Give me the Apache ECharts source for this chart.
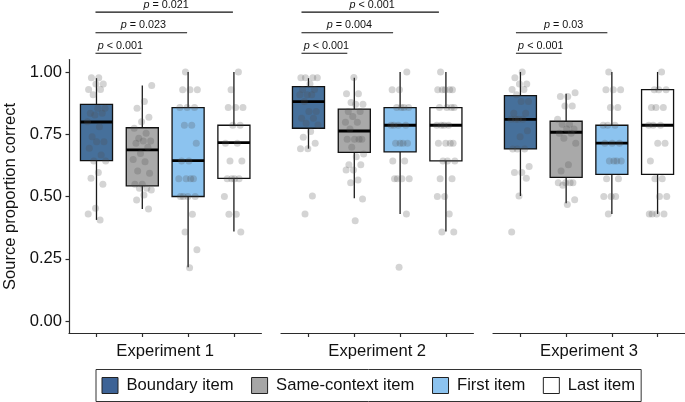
<!DOCTYPE html>
<html>
<head>
<meta charset="utf-8">
<script src="https://cdn.jsdelivr.net/npm/echarts@6/dist/echarts.min.js"></script>
<style>html,body{margin:0;padding:0;background:#fff}#c{width:685px;height:402px}</style>
</head>
<body>
<div id="c"></div>
<script>
// ---------- DATA ----------
const experiments = ['Experiment 1', 'Experiment 2', 'Experiment 3'];
const items = ['Boundary item', 'Same-context item', 'First item', 'Last item'];
const yTicks = [0, 0.25, 0.5, 0.75, 1.0];

// box statistics per item: [min whisker, Q1, median, Q3, max whisker]
const exp1Box = [[0.406, 0.644, 0.799, 0.870, 0.975], [0.450, 0.543, 0.687, 0.776, 0.946], [0.216, 0.500, 0.644, 0.857, 1.000], [0.359, 0.573, 0.716, 0.786, 1.000]];
const exp2Box = [[0.692, 0.774, 0.881, 0.941, 0.975], [0.493, 0.677, 0.763, 0.851, 0.977], [0.430, 0.679, 0.786, 0.857, 1.000], [0.359, 0.643, 0.786, 0.857, 1.000]];
const exp3Box = [[0.502, 0.691, 0.810, 0.905, 1.000], [0.473, 0.577, 0.758, 0.802, 0.912], [0.430, 0.589, 0.714, 0.786, 1.000], [0.430, 0.589, 0.786, 0.929, 1.000]];

// individual participant values
const exp1Boundary = [0.977, 0.977, 0.952, 0.952, 0.930, 0.930, 0.908, 0.854, 0.854, 0.834, 0.834, 0.827, 0.800, 0.780, 0.740, 0.720, 0.720, 0.694, 0.667, 0.643, 0.643, 0.596, 0.573, 0.549, 0.453, 0.430, 0.406];
const exp1Same = [0.946, 0.881, 0.854, 0.818, 0.800, 0.774, 0.754, 0.734, 0.723, 0.723, 0.714, 0.698, 0.673, 0.649, 0.640, 0.602, 0.593, 0.549, 0.549, 0.533, 0.533, 0.526, 0.506, 0.486, 0.450];
const exp1First = [1.000, 0.929, 0.929, 0.929, 0.857, 0.857, 0.857, 0.786, 0.786, 0.714, 0.643, 0.643, 0.571, 0.571, 0.571, 0.571, 0.500, 0.500, 0.500, 0.500, 0.429, 0.357, 0.286, 0.214];
const exp1Last = [1.000, 0.929, 0.857, 0.857, 0.857, 0.786, 0.786, 0.714, 0.714, 0.643, 0.643, 0.571, 0.571, 0.571, 0.571, 0.500, 0.429, 0.429, 0.357];

const exp2Boundary = [0.977, 0.977, 0.977, 0.977, 0.952, 0.930, 0.930, 0.908, 0.908, 0.908, 0.881, 0.841, 0.841, 0.814, 0.814, 0.794, 0.787, 0.761, 0.738, 0.714, 0.692, 0.692, 0.502, 0.430];
const exp2Same = [0.978, 0.912, 0.912, 0.877, 0.870, 0.870, 0.841, 0.841, 0.821, 0.798, 0.798, 0.771, 0.730, 0.730, 0.730, 0.730, 0.698, 0.671, 0.660, 0.627, 0.627, 0.606, 0.606, 0.566, 0.555, 0.490, 0.403];
const exp2First = [1.000, 0.929, 0.929, 0.857, 0.857, 0.857, 0.857, 0.786, 0.786, 0.786, 0.786, 0.714, 0.714, 0.714, 0.714, 0.643, 0.643, 0.571, 0.571, 0.571, 0.571, 0.430, 0.216];
const exp2Last = [1.000, 0.929, 0.929, 0.929, 0.929, 0.929, 0.857, 0.857, 0.857, 0.857, 0.786, 0.786, 0.786, 0.786, 0.714, 0.714, 0.714, 0.714, 0.643, 0.643, 0.643, 0.571, 0.571, 0.500, 0.500, 0.430, 0.357, 0.357];

const exp3Boundary = [1.000, 0.977, 0.952, 0.952, 0.930, 0.930, 0.908, 0.881, 0.881, 0.834, 0.834, 0.810, 0.810, 0.810, 0.810, 0.764, 0.740, 0.691, 0.691, 0.691, 0.620, 0.596, 0.596, 0.573, 0.502, 0.357];
const exp3Same = [0.917, 0.901, 0.901, 0.863, 0.863, 0.810, 0.790, 0.790, 0.771, 0.771, 0.754, 0.754, 0.734, 0.714, 0.627, 0.602, 0.555, 0.555, 0.555, 0.555, 0.545, 0.487, 0.468];
const exp3First = [1.000, 0.929, 0.929, 0.929, 0.857, 0.857, 0.786, 0.786, 0.786, 0.714, 0.714, 0.714, 0.643, 0.643, 0.643, 0.643, 0.571, 0.571, 0.500, 0.500, 0.500, 0.430];
const exp3Last = [1.000, 0.929, 0.929, 0.929, 0.857, 0.857, 0.857, 0.786, 0.786, 0.786, 0.714, 0.714, 0.643, 0.571, 0.571, 0.500, 0.500, 0.430, 0.430, 0.430, 0.430];

// significance comparisons: [from item index, to item index, level, p text]
const exp1Tests = [[0, 1, 1, '< 0.001'], [0, 2, 2, '= 0.023'], [0, 3, 3, '= 0.021']];
const exp2Tests = [[0, 1, 1, '< 0.001'], [0, 2, 2, '= 0.004'], [0, 3, 3, '< 0.001']];
const exp3Tests = [[0, 1, 1, '< 0.001'], [0, 2, 2, '= 0.03']];

// ---------- BUILD ----------
const boxes = [exp1Box, exp2Box, exp3Box];
const points = [[exp1Boundary, exp1Same, exp1First, exp1Last], [exp2Boundary, exp2Same, exp2First, exp2Last], [exp3Boundary, exp3Same, exp3First, exp3Last]];
const tests = [exp1Tests, exp2Tests, exp3Tests];

const FONT = '"Liberation Sans", Arial, Helvetica, sans-serif';
const fills = ['#46709b', '#a9a9a9', '#8cc3ef', '#ffffff'];
const legendFills = ['#3d6396', '#a6a6a6', '#8cc3ef', '#ffffff'];
const AX = '#2b2b2b';
const gridLefts = [69, 281, 493];
const bracketNudge = [-1, -7, -4.5];

function jitter(k, seed) {
  const f = ((k + 1) * 0.6180339887 + seed * 0.3719) % 1;
  return (f - 0.5) * 0.42;
}

const grids = gridLefts.map(l => ({ left: l, top: 59.5, width: 192.4, height: 274 }));
const xAxes = experiments.map((name, e) => ({
  type: 'value', gridIndex: e, min: -0.6, max: 3.6,
  name: name, nameLocation: 'middle', nameGap: 9,
  nameTextStyle: { fontSize: 16.6, color: '#111', fontFamily: FONT },
  axisLine: { show: true, onZero: false, lineStyle: { color: AX, width: 1.2 } },
  axisTick: { show: true, customValues: [0, 1, 2, 3], length: 3.5, lineStyle: { color: AX, width: 1.2 } },
  axisLabel: { show: false },
  splitLine: { show: false }
}));
const yAxes = experiments.map((n, e) => ({
  type: 'value', gridIndex: e, min: -0.05, max: 1.05, show: e === 0,
  name: e === 0 ? 'Source proportion correct' : '', nameLocation: 'middle', nameGap: 50,
  nameTextStyle: { fontSize: 16.6, color: '#111', fontFamily: FONT },
  axisLine: { show: true, onZero: false, lineStyle: { color: AX, width: 1.2 } },
  axisTick: { show: true, customValues: yTicks, length: 3.5, lineStyle: { color: AX, width: 1.2 } },
  axisLabel: { show: true, customValues: yTicks, margin: 7, fontSize: 16.6, color: '#111', fontFamily: FONT,
    formatter: v => Number(v).toFixed(2) },
  splitLine: { show: false }
}));

function boxRender(color) {
  return function (params, api) {
    const x = api.value(0);
    const pMin = api.coord([x, api.value(1)]);
    const pQ1 = api.coord([x, api.value(2)]);
    const pMed = api.coord([x, api.value(3)]);
    const pQ3 = api.coord([x, api.value(4)]);
    const pMax = api.coord([x, api.value(5)]);
    const w = api.size([0.7, 0])[0];
    const ls = { stroke: '#1a1a1a', lineWidth: 1.3 };
    return {
      type: 'group', children: [
        { type: 'line', shape: { x1: pMax[0], y1: pMax[1], x2: pQ3[0], y2: pQ3[1] }, style: ls },
        { type: 'line', shape: { x1: pQ1[0], y1: pQ1[1], x2: pMin[0], y2: pMin[1] }, style: ls },
        { type: 'rect', shape: { x: pQ3[0] - w / 2, y: pQ3[1], width: w, height: pQ1[1] - pQ3[1] },
          style: { fill: color, stroke: '#111', lineWidth: 1.3 } },
        { type: 'line', shape: { x1: pMed[0] - w / 2, y1: pMed[1], x2: pMed[0] + w / 2, y2: pMed[1] },
          style: { stroke: '#000', lineWidth: 2.8 } }
      ]
    };
  };
}

const series = [];
experiments.forEach((exp, e) => {
  items.forEach((item, i) => {
    const b = boxes[e][i];
    series.push({
      type: 'custom', name: item, xAxisIndex: e, yAxisIndex: e, z: 2,
      dimensions: ['x', 'min', 'q1', 'med', 'q3', 'max'],
      encode: { x: 0, y: [1, 2, 3, 4, 5] },
      data: [[i, b[0], b[1], b[2], b[3], b[4]]],
      renderItem: boxRender(fills[i]),
      silent: true
    });
  });
  const pts = [];
  points[e].forEach((arr, i) => {
    arr.forEach((v, k) => pts.push([i + jitter(k, i + e * 4), v]));
  });
  series.push({
    type: 'scatter', xAxisIndex: e, yAxisIndex: e, z: 3, silent: true,
    symbolSize: 7, itemStyle: { color: 'rgba(77,77,77,0.3)' },
    data: pts
  });
  const t = tests[e];
  series.push({
    type: 'custom', xAxisIndex: e, yAxisIndex: e, z: 4, clip: false, silent: true,
    data: t.map(r => [r[0], r[1], 1.075 + (r[2] - 1) * 0.0825]),
    encode: { x: [0, 1], y: 2 },
    renderItem: function (params, api) {
      const a = api.coord([api.value(0), api.value(2)]);
      const b = api.coord([api.value(1), api.value(2)]);
      const dx = bracketNudge[e];
      const txt = t[params.dataIndex][3];
      return {
        type: 'group', children: [
          { type: 'line', shape: { x1: a[0] + dx, y1: a[1], x2: b[0] + dx, y2: b[1] },
            style: { stroke: '#111', lineWidth: 1.1 } },
          { type: 'text', x: (a[0] + b[0]) / 2 + dx + 2, y: a[1] - 7.5,
            style: { text: '{i|p} ' + txt, fill: '#111', fontSize: 10.8, fontFamily: FONT,
              align: 'center', verticalAlign: 'middle',
              rich: { i: { fontStyle: 'italic', fontSize: 10.8, fontFamily: FONT, fill: '#111' } } } }
        ]
      };
    }
  });
});

const chart = echarts.init(document.getElementById('c'), null, { renderer: 'canvas' });
chart.setOption({
  animation: false,
  backgroundColor: '#fff',
  grid: grids,
  xAxis: xAxes,
  yAxis: yAxes,
  legend: {
    left: 96, top: 369.5, orient: 'horizontal', selectedMode: false,
    padding: [7.5, 6, 7.5, 5.5],
    itemWidth: 16, itemHeight: 16, itemGap: 17.6,
    borderColor: '#333', borderWidth: 1,
    textStyle: { fontSize: 16.6, color: '#111', fontFamily: FONT, lineHeight: 16, padding: [0, 0, 0, 3.5] },
    data: items.map((n, i) => ({ name: n, icon: 'rect',
      itemStyle: { color: legendFills[i], borderColor: '#222', borderWidth: 1 } }))
  },
  series: series
});
</script>
</body>
</html>
